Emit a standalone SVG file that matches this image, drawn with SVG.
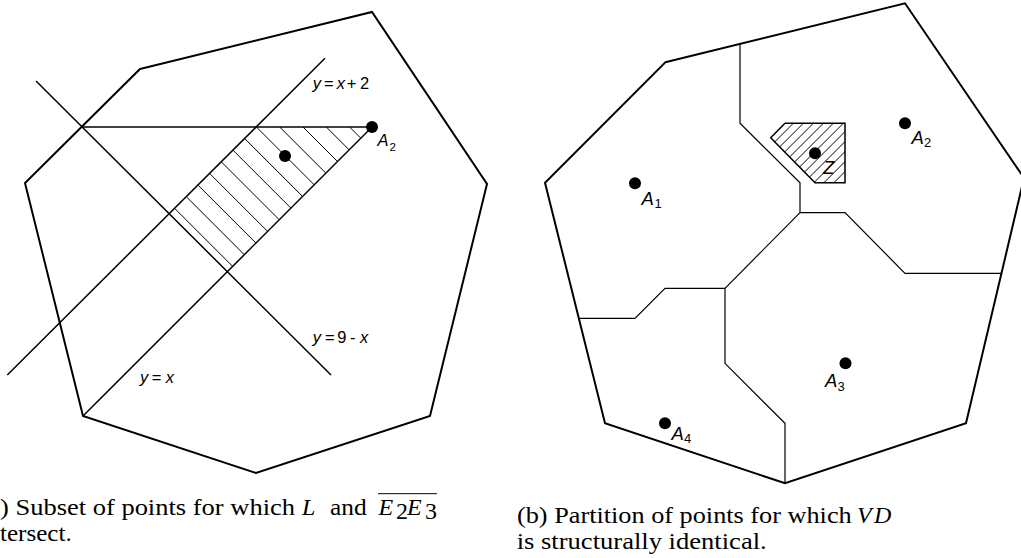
<svg xmlns="http://www.w3.org/2000/svg" width="1021" height="558" viewBox="0 0 1021 558">
<style>
.poly{fill:none;stroke:#000;stroke-width:2;stroke-linejoin:miter}
.ln{fill:none;stroke:#000;stroke-width:1.5}
.vd{fill:none;stroke:#000;stroke-width:1.2}
.ht{stroke:#000;stroke-width:1}
.dot{fill:#000}
.lbl{font-family:"Liberation Sans",Arial,sans-serif;font-style:italic;fill:#000}
.num{font-family:"Liberation Sans",Arial,sans-serif;font-style:normal;fill:#000}
.cap{font-family:"Liberation Serif","Times New Roman",serif;font-size:24px;fill:#000}
.it{font-style:italic}
</style>
<rect width="1021" height="558" fill="#fff"/>

<!-- Figure (a) -->
<g id="fig-a">
  <g id="a-polygon">
    <polygon class="poly" points="140,69 372,12 487,184 430,416 256,473 83,416 25,183"/>
  </g>
  <g id="a-hatch">
    <polygon points="256.3,127 372,127 227,272 169.2,214.2" fill="#fff" stroke="none"/>
    <line class="ht" x1="174.8" y1="208.5" x2="232.65" y2="266.35"/>
    <line class="ht" x1="186.45" y1="196.85" x2="244.3" y2="254.7"/>
    <line class="ht" x1="198.1" y1="185.2" x2="255.95" y2="243.05"/>
    <line class="ht" x1="209.75" y1="173.55" x2="267.6" y2="231.4"/>
    <line class="ht" x1="221.4" y1="161.9" x2="279.25" y2="219.75"/>
    <line class="ht" x1="233.05" y1="150.25" x2="290.9" y2="208.1"/>
    <line class="ht" x1="244.7" y1="138.6" x2="302.55" y2="196.45"/>
    <line class="ht" x1="256.35" y1="126.95" x2="314.2" y2="184.8"/>
    <line class="ht" x1="279.7" y1="127" x2="325.85" y2="173.15"/>
    <line class="ht" x1="303" y1="127" x2="337.5" y2="161.5"/>
    <line class="ht" x1="326.3" y1="127" x2="349.15" y2="149.85"/>
    <line class="ht" x1="349.6" y1="127" x2="360.8" y2="138.2"/>
  </g>
  <g id="a-lines">
    <line class="ln" x1="36" y1="81" x2="331" y2="375"/>
    <line class="ln" x1="325" y1="58.3" x2="7.3" y2="375"/>
    <line class="ln" x1="82.5" y1="127" x2="372" y2="127"/>
    <line class="ln" x1="83" y1="416" x2="372" y2="127"/>
  </g>
  <g id="a-points">
    <circle class="dot" cx="285" cy="156" r="6"/>
    <circle class="dot" cx="372" cy="127" r="6"/>
  </g>
  <g id="a-labels">
    <text class="lbl" font-size="16.5" y="89" x="312.7">y</text>
    <text class="num" font-size="16.5" y="89" x="324">=</text>
    <text class="lbl" font-size="16.5" y="89" x="336.7">x</text>
    <text class="num" font-size="16.5" y="89" x="346.7">+</text>
    <text class="num" font-size="16.5" y="89" x="360">2</text>

    <text class="lbl" font-size="16.5" y="342.7" x="312.7">y</text>
    <text class="num" font-size="16.5" y="342.7" x="325">=</text>
    <text class="num" font-size="16.5" y="342.7" x="337.3">9</text>
    <text class="num" font-size="16.5" y="342.7" x="350">-</text>
    <text class="lbl" font-size="16.5" y="342.7" x="360">x</text>

    <text class="lbl" font-size="16.5" y="382.7" x="140">y</text>
    <text class="num" font-size="16.5" y="382.7" x="151.7">=</text>
    <text class="lbl" font-size="16.5" y="382.7" x="165.7">x</text>

    <text class="lbl" font-size="16.5" y="146" x="377.5">A</text>
    <text class="num" font-size="11.5" y="150.7" x="389.5">2</text>
  </g>
</g>

<!-- Figure (b) -->
<g id="fig-b">
  <g id="b-polygon">
    <polygon class="poly" points="665.3,62.3 905,3.3 1024,178 966,423.3 785,483.3 605,423.3 545,182.7"/>
  </g>
  <g id="b-zone">
    <polygon points="770.7,137.7 785,123.3 845,123.3 845,182.7 815,182.7" fill="#fff" stroke="#000" stroke-width="1.5"/>
    <line class="ht" x1="793.3" y1="123.3" x2="774.65" y2="141.95"/>
    <line class="ht" x1="803.3" y1="123.3" x2="779.65" y2="146.95"/>
    <line class="ht" x1="813.3" y1="123.3" x2="784.65" y2="151.95"/>
    <line class="ht" x1="823.3" y1="123.3" x2="789.65" y2="156.95"/>
    <line class="ht" x1="833.3" y1="123.3" x2="794.65" y2="161.95"/>
    <line class="ht" x1="843.3" y1="123.3" x2="799.65" y2="166.95"/>
    <line class="ht" x1="845" y1="131.6" x2="804.65" y2="171.95"/>
    <line class="ht" x1="845" y1="141.6" x2="809.65" y2="176.95"/>
    <line class="ht" x1="845" y1="151.6" x2="814.65" y2="181.95"/>
    <line class="ht" x1="845" y1="161.6" x2="823.9" y2="182.7"/>
    <line class="ht" x1="845" y1="171.6" x2="833.9" y2="182.7"/>
  </g>
  <g id="b-edges">
    <polyline class="vd" points="740,43.9 740,123.3 800,182.7 800,212.7"/>
    <polyline class="vd" points="800,212.7 845,212.7 905,273.3 1001.5,273.3"/>
    <polyline class="vd" points="800,212.7 725,288.3"/>
    <polyline class="vd" points="725,288.3 665,288.3 635,318.3 578.8,318.3"/>
    <polyline class="vd" points="725,288.3 725,363.3 785,423.3 785,483.3"/>
  </g>
  <g id="b-points">
    <circle class="dot" cx="635" cy="183.3" r="6"/>
    <circle class="dot" cx="905" cy="123.3" r="6"/>
    <circle class="dot" cx="815" cy="153.3" r="6"/>
    <circle class="dot" cx="845.5" cy="363.3" r="6"/>
    <circle class="dot" cx="665" cy="423.3" r="6"/>
  </g>
  <g id="b-labels">
    <text class="lbl" font-size="18.5" y="205" x="641.5">A</text>
    <text class="num" font-size="13" y="207.5" x="654.5">1</text>
    <text class="lbl" font-size="18.5" y="144" x="911.5">A</text>
    <text class="num" font-size="13" y="146.7" x="924">2</text>
    <text class="lbl" font-size="18.5" y="174" x="823">Z</text>
    <text class="lbl" font-size="18.5" y="387" x="825">A</text>
    <text class="num" font-size="13" y="390.7" x="837.5">3</text>
    <text class="lbl" font-size="18.5" y="440" x="671.5">A</text>
    <text class="num" font-size="13" y="442.5" x="684">4</text>
  </g>
</g>

<!-- Captions -->
<g id="caption-a">
  <text class="cap" x="0" y="515.3" textLength="295" lengthAdjust="spacingAndGlyphs">) Subset of points for which</text>
  <text class="cap it" x="302" y="515.3" font-size="26">L</text>
  <text class="cap" x="330" y="515.3" textLength="36.7" lengthAdjust="spacingAndGlyphs">and</text>
  <text class="cap it" x="378.5" y="515.3" font-size="25">E</text>
  <text class="cap" x="396" y="519" font-size="17">2</text>
  <text class="cap it" x="407" y="515.3" font-size="25">E</text>
  <text class="cap" x="425" y="519" font-size="17">3</text>
  <line x1="378" y1="493.7" x2="437" y2="493.7" stroke="#000" stroke-width="1"/>
  <text class="cap" x="0" y="541.3" textLength="71.7" lengthAdjust="spacingAndGlyphs">tersect.</text>
</g>
<g id="caption-b">
  <text class="cap" x="517" y="523.3" textLength="334.7" lengthAdjust="spacingAndGlyphs">(b) Partition of points for which</text>
  <text class="cap it" x="857" y="523.3" font-size="26">V</text>
  <text class="cap it" x="874" y="523.3" font-size="26">D</text>
  <text class="cap" x="516.7" y="549.3" textLength="250" lengthAdjust="spacingAndGlyphs">is structurally identical.</text>
</g>
</svg>
